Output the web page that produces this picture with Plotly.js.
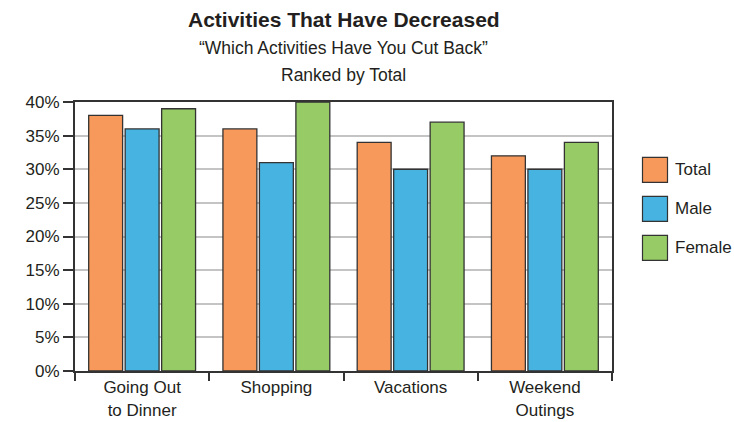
<!DOCTYPE html>
<html>
<head>
<meta charset="utf-8">
<script src="https://cdn.plot.ly/plotly-3.0.1.min.js"></script>
<style>
  html, body { margin: 0; padding: 0; background: #ffffff; }
  #chart { width: 734px; height: 422px; }
</style>
</head>
<body>
<div id="chart"></div>
<script>
// ---- Data ----
const categories = ["Going Out<br>to Dinner", "Shopping", "Vacations", "Weekend<br>Outings"];
const seriesNames = ["Total", "Male", "Female"];
const totalValues = [38, 36, 34, 32];
const maleValues = [36, 31, 30, 30];
const femaleValues = [39, 40, 37, 34];
const seriesColors = ["#F7995B", "#47B3E1", "#96CB65"];
const titleText = "Activities That Have Decreased";
const subtitleText = "\u201CWhich Activities Have You Cut Back\u201D";
const subtitle2Text = "Ranked by Total";

const seriesValues = [totalValues, maleValues, femaleValues];
const textColor = "#231F20";
const outline = "#333333";

const traces = seriesNames.map((name, i) => ({
  type: "bar",
  name: name,
  x: categories,
  y: seriesValues[i],
  marker: { color: seriesColors[i], line: { color: outline, width: 1.3 } },
  showlegend: false,
  hovertemplate: "%{y}%<extra>" + name + "</extra>"
}));

// Plot area: x 75..612, y 102..371
const plotL = 75, plotR = 612, plotT = 102, plotB = 371;
const pw = plotR - plotL, ph = plotB - plotT;
const px = v => (v - plotL) / pw;
const py = v => (plotB - v) / ph;

const shapes = [];
const annotations = [
  { text: "<b>" + titleText + "</b>", xref: "paper", yref: "paper", x: 0.5, y: py(20), xanchor: "center", yanchor: "middle", showarrow: false,
    font: { family: "Liberation Sans, Arial, sans-serif", size: 21, color: textColor } },
  { text: subtitleText, xref: "paper", yref: "paper", x: 0.5, y: py(48), xanchor: "center", yanchor: "middle", showarrow: false,
    font: { family: "Liberation Sans, Arial, sans-serif", size: 17.5, color: textColor } },
  { text: subtitle2Text, xref: "paper", yref: "paper", x: 0.5, y: py(75), xanchor: "center", yanchor: "middle", showarrow: false,
    font: { family: "Liberation Sans, Arial, sans-serif", size: 17.5, color: textColor } }
];

// Custom legend (large swatches as in the reference)
seriesNames.forEach((name, i) => {
  const top = 157.3 + i * 39;
  shapes.push({ type: "rect", xref: "paper", yref: "paper",
    x0: px(642.5), x1: px(667.5), y0: py(top + 25), y1: py(top),
    fillcolor: seriesColors[i], line: { color: outline, width: 1.2 } });
  annotations.push({ text: name, xref: "paper", yref: "paper", x: px(673), y: py(top + 12.5),
    xanchor: "left", yanchor: "middle", showarrow: false,
    font: { family: "Liberation Sans, Arial, sans-serif", size: 17, color: textColor } });
});

const layout = {
  width: 734, height: 422,
  margin: { l: plotL, r: 734 - plotR, t: plotT, b: 422 - plotB, pad: 0 },
  paper_bgcolor: "#ffffff", plot_bgcolor: "#ffffff",
  barmode: "group", bargap: 0.185, bargroupgap: 0.07,
  showlegend: false,
  font: { family: "Liberation Sans, Arial, sans-serif", color: textColor },
  xaxis: {
    type: "category",
    showline: true, linecolor: outline, linewidth: 2, mirror: true,
    ticks: "outside", tickson: "boundaries", ticklen: 8, tickwidth: 1.5, tickcolor: outline,
    showgrid: false,
    tickfont: { family: "Liberation Sans, Arial, sans-serif", size: 17, color: textColor },
    fixedrange: true
  },
  yaxis: {
    range: [0, 40], dtick: 5, tick0: 0, ticksuffix: "%",
    showline: true, linecolor: outline, linewidth: 2, mirror: true,
    ticks: "outside", ticklen: 10, tickwidth: 1.5, tickcolor: outline,
    showgrid: true, gridcolor: "#C4C4C4", gridwidth: 1.5,
    zeroline: false,
    tickfont: { family: "Liberation Sans, Arial, sans-serif", size: 17, color: textColor },
    fixedrange: true
  },
  shapes: shapes,
  annotations: annotations
};

Plotly.newPlot("chart", traces, layout, { displayModeBar: false, staticPlot: false });
</script>
</body>
</html>
